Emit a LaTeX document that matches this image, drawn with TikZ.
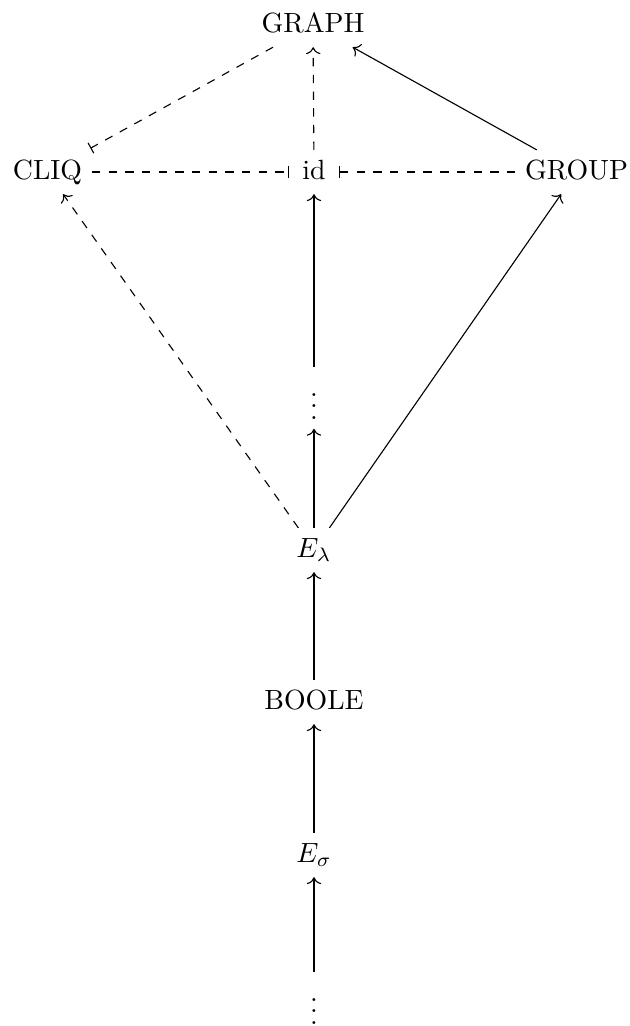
\documentclass[tikz,border=0pt]{standalone}
\usetikzlibrary{arrows.meta}
\begin{document}
\begin{tikzpicture}[x=0.3597pt,y=-0.3597pt,
  cell/.style={anchor=base,inner sep=3.33pt,text height=6.94pt,text depth=1.94pt},
  dotcell/.style={anchor=base,inner sep=3.33pt},
  arr/.style={-{Computer Modern Rightarrow}},
  barend/.style={-{Bar[width=4.2pt]},shorten >=1.2pt}]
\useasboundingbox (0,0) rectangle (630,1026);
\node[cell] (graph) at (313,32) {GRAPH};
\node[cell] (cliq) at (47.5,179) {CLIQ};
\node[cell] (id) at (314,179) {id};
\node[cell] (group) at (576.5,179) {GROUP};
\node[dotcell] (vd1) at (314,419) {$\vdots$};
\node[cell] (el) at (314,557) {$E_\lambda$};
\node[cell] (boole) at (314,709) {BOOLE};
\node[cell] (es) at (314,862) {$E_\sigma$};
\node[dotcell] (vd2) at (314,1024) {$\vdots$};
\draw[dashed,barend] (graph) -- (cliq);
\draw[dashed,barend] (cliq) -- (id);
\draw[dashed,barend] (group) -- (id);
\draw[dashed,arr] (id) -- (graph);
\draw[arr] (group) -- (graph);
\draw[arr] (el) -- (group);
\draw[dashed,arr] (el) -- (cliq);
\draw[arr] (el) -- (vd1);
\draw[arr] (vd1) -- (id);
\draw[arr] (boole) -- (el);
\draw[arr] (es) -- (boole);
\draw[arr] (vd2) -- (es);
\end{tikzpicture}
\end{document}
